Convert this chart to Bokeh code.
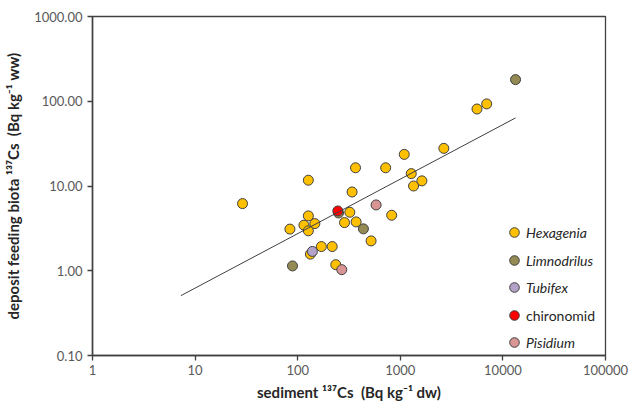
from bokeh.plotting import figure
from bokeh.models import Range1d, FixedTicker, CustomJSTickFormatter, Legend, LegendItem
from bokeh.embed import file_html
from bokeh.resources import INLINE

# Sediment vs. deposit-feeding biota 137Cs activity, by taxon
hexagenia_x = [29, 127, 366, 720, 1093, 2656, 1279, 1623, 1346, 339, 322, 824, 127,
               115, 147, 127, 84, 286, 371, 519, 170, 217, 133, 235, 6950, 5590]
hexagenia_y = [6.2, 11.7, 16.4, 16.4, 23.6, 27.8, 14.0, 11.5, 10.0, 8.5, 4.9, 4.52, 4.44,
               3.45, 3.6, 2.96, 3.1, 3.7, 3.77, 2.25, 1.93, 1.93, 1.57, 1.18, 93, 81]
limnodrilus_x = [89, 437, 13280, 250]
limnodrilus_y = [1.14, 3.12, 180, 4.8]
tubifex_x = [139]
tubifex_y = [1.69]
chironomid_x = [246]
chironomid_y = [5.08]
pisidium_x = [581, 269]
pisidium_y = [5.98, 1.03]

# power-law fit drawn between its end points
trend_x = [7.26, 13280]
trend_y = [0.508, 63.6]

x_ticks = [1, 10, 100, 1000, 10000, 100000]
y_ticks = [0.1, 1, 10, 100, 1000]

FONT = "Lato"
NB = "\u00a0"

p = figure(frame_width=513, frame_height=339, x_axis_type="log", y_axis_type="log",
           x_range=Range1d(1, 100000), y_range=Range1d(0.1, 1000),
           output_backend="svg", toolbar_location=None,
           min_border_left=92, min_border_right=24, min_border_top=16, min_border_bottom=53)

p.xgrid.visible = False
p.ygrid.visible = False
p.outline_line_color = "#404040"
p.outline_line_width = 1.3
p.background_fill_color = "white"
p.border_fill_color = "white"

p.xaxis.ticker = FixedTicker(ticks=x_ticks)
p.yaxis.ticker = FixedTicker(ticks=y_ticks)
p.xaxis.formatter = CustomJSTickFormatter(code="return tick.toFixed(0)")
p.yaxis.formatter = CustomJSTickFormatter(code="return tick.toFixed(2)")

for ax in (p.xaxis[0], p.yaxis[0]):
    ax.axis_line_color = "#404040"
    ax.axis_line_width = 1.5
    ax.major_tick_line_color = "#404040"
    ax.major_tick_line_width = 1.3
    ax.major_tick_in = 0
    ax.major_tick_out = 5
    ax.minor_tick_line_color = None
    ax.major_label_text_font = FONT
    ax.major_label_text_font_size = "13px"
    ax.major_label_text_color = "#595959"
    ax.axis_label_text_font = FONT
    ax.axis_label_text_font_size = "15px"
    ax.axis_label_text_font_style = "bold"
    ax.axis_label_text_color = "#262626"

p.xaxis.axis_label = "sediment \u00b9\u00b3\u2077Cs" + NB + NB + "(Bq kg\u207b\u00b9 dw)"
p.yaxis.axis_label = ("deposit feeding biota \u00b9\u00b3\u2077Cs" + NB + NB +
                      "(Bq kg\u207b\u00b9 ww)")
p.xaxis.major_label_standoff = 4
p.xaxis.axis_label_standoff = 5
p.yaxis.major_label_standoff = 5
p.yaxis.axis_label_standoff = 9

common = dict(size=10, line_color="#404040", line_width=1)
r_hex = p.scatter(hexagenia_x, hexagenia_y, fill_color="#FFC000", **common)
r_lim = p.scatter(limnodrilus_x, limnodrilus_y, fill_color="#948A54", **common)
r_tub = p.scatter(tubifex_x, tubifex_y, fill_color="#B3A2C7", **common)
r_chi = p.scatter(chironomid_x, chironomid_y, fill_color="#FF0000", **common)
r_pis = p.scatter(pisidium_x, pisidium_y, fill_color="#D99594", **common)

p.line(trend_x, trend_y, line_color="#404040", line_width=1)

# one legend entry per taxon so that species names can be italic
entries = [("Hexagenia", r_hex, "italic", 111),
           ("Limnodrilus", r_lim, "italic", 83),
           ("Tubifex", r_tub, "italic", 56),
           ("chironomid", r_chi, "normal", 28),
           ("Pisidium", r_pis, "italic", 1)]
for label, rend, style, ybot in entries:
    leg = Legend(items=[LegendItem(label=label, renderers=[rend])],
                 location=(410, ybot), padding=0, margin=0,
                 glyph_width=24, glyph_height=24, label_height=24,
                 label_standoff=-3,
                 label_text_font=FONT, label_text_font_size="14px",
                 label_text_font_style=style, label_text_color="#262626",
                 border_line_alpha=0, background_fill_alpha=0)
    p.add_layout(leg, "center")

open("out.html", "w").write(file_html(p, INLINE))
